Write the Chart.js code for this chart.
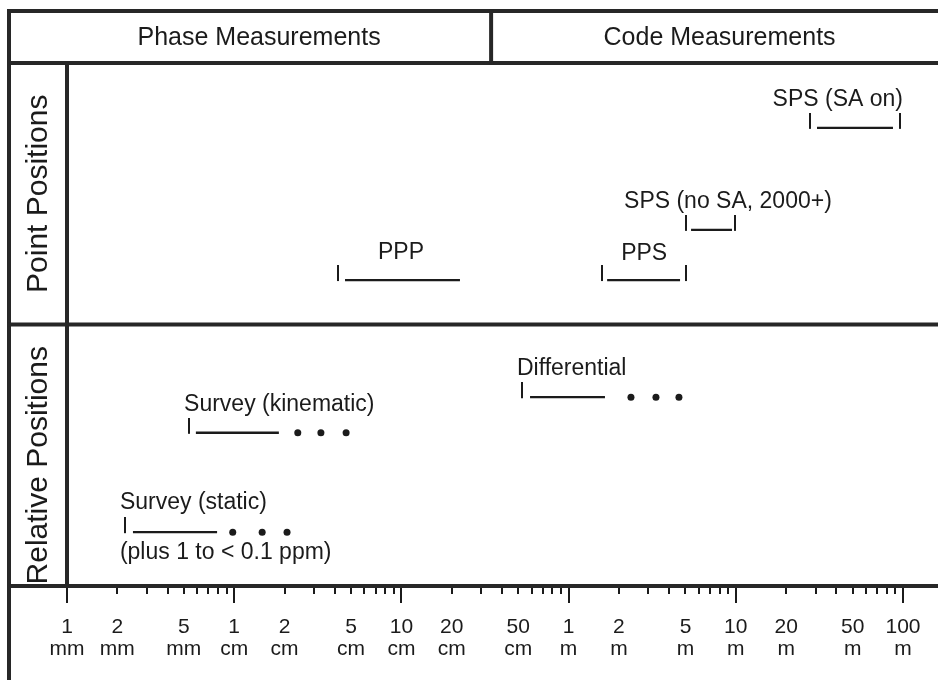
<!DOCTYPE html>
<html><head><meta charset="utf-8">
<script src="https://cdn.jsdelivr.net/npm/chart.js@4/dist/chart.umd.min.js"></script>
<style>html,body{margin:0;padding:0;background:#fff;overflow:hidden}</style>
</head><body>
<canvas id="c" width="938" height="680"></canvas>
<script>
// ---------- data (all distances in metres) ----------
const itemNames  = ['SPS (SA on)', 'SPS (no SA, 2000+)', 'PPS', 'PPP', 'Differential', 'Survey (kinematic)', 'Survey (static)'];
const itemNotes  = ['', '', '', '', '', '', '(plus 1 to < 0.1 ppm)'];
const rowLevel   = [87.6, 68.1, 58.5, 58.5, 36.1, 29.3, 10.3];
const lowTick    = [27.8, 5.04, 1.59, 0.0418, 0.526, 0.00537, 0.00222];
const highTick   = [95.9, 9.89, 5.04, null, null, null, null];
const lineFrom   = [30.6, 5.40, 1.70, 0.046, 0.588, 0.0059, 0.00248];
const lineTo     = [87.1, 9.49, 4.64, 0.224, 1.65, 0.0185, 0.0079];
const dotValues  = [[], [], [], [], [2.36, 3.33, 4.57], [0.024, 0.033, 0.0467], [0.0098, 0.0147, 0.0207]];

const axisTickValues = [0.001,0.002,0.003,0.004,0.005,0.006,0.007,0.008,0.009,
  0.01,0.02,0.03,0.04,0.05,0.06,0.07,0.08,0.09,
  0.1,0.2,0.3,0.4,0.5,0.6,0.7,0.8,0.9,
  1,2,3,4,5,6,7,8,9,
  10,20,30,40,50,60,70,80,90,100];
const labelValues  = [0.001,0.002,0.005,0.01,0.02,0.05,0.1,0.2,0.5,1,2,5,10,20,50,100];
const labelNumbers = ['1','2','5','1','2','5','10','20','50','1','2','5','10','20','50','100'];
const labelUnits   = ['mm','mm','mm','cm','cm','cm','cm','cm','cm','m','m','m','m','m','m','m'];

const columnTitles = ['Phase Measurements', 'Code Measurements'];
const rowTitles    = ['Point Positions', 'Relative Positions'];
const columnSplitValue = 0.344;  // boundary between phase / code columns (m)
const rowSplitLevel = 50;

// ---------- styles ----------
const INK = '#1b1b1b';
const FRAME = '#272727';
const FONT = "'Liberation Sans', Arial, Helvetica, sans-serif";
const labelPlace = [
  {align: 'right',  ref: 'high', dx: 3,   dy: -22},
  {align: 'left',   ref: 'low',  dx: -62, dy: -22},
  {align: 'center', ref: 'mid',  dx: 0,   dy: -20},
  {align: 'center', ref: 'mid',  dx: 2,   dy: -21},
  {align: 'left',   ref: 'low',  dx: -5,  dy: -22},
  {align: 'left',   ref: 'low',  dx: -5,  dy: -22},
  {align: 'left',   ref: 'low',  dx: -5,  dy: -23}
];
const rowTitleShift = [0, 10];

// tick-mark point style: vertical stroke whose bottom sits on the point
const tickImg = document.createElement('canvas');
tickImg.width = 2; tickImg.height = 30;
(function(){ const g = tickImg.getContext('2d'); g.fillStyle = INK; g.fillRect(0, 0, 2, 16); })();

const datasets = [];
itemNames.forEach((n, i) => {
  datasets.push({
    label: n, showLine: true,
    data: [{x: lineFrom[i], y: rowLevel[i]}, {x: lineTo[i], y: rowLevel[i]}],
    borderColor: INK, borderWidth: 2.3, pointRadius: 0
  });
});
const tickPts = [];
itemNames.forEach((n, i) => {
  tickPts.push({x: lowTick[i], y: rowLevel[i]});
  if (highTick[i] !== null) tickPts.push({x: highTick[i], y: rowLevel[i]});
});
datasets.push({label: 'ends', data: tickPts, pointStyle: tickImg, pointRadius: 5, showLine: false});
const dotPts = [];
itemNames.forEach((n, i) => dotValues[i].forEach(v => dotPts.push({x: v, y: rowLevel[i]})));
datasets.push({label: 'dots', data: dotPts, pointStyle: 'circle', pointRadius: 3.5,
  backgroundColor: INK, borderWidth: 0, showLine: false});

const framePlugin = {
  id: 'frame',
  beforeDraw(chart) {
    const c = chart.ctx;
    c.save(); c.fillStyle = '#fff'; c.fillRect(0, 0, chart.width, chart.height); c.restore();
  },
  afterDraw(chart) {
    const c = chart.ctx, ca = chart.chartArea, xs = chart.scales.x, ys = chart.scales.y;
    const W = chart.width, H = chart.height;
    const outerL = ca.left - 58, outerT = ca.top - 52;
    const splitX = xs.getPixelForValue(columnSplitValue);
    const rowY = ys.getPixelForValue(rowSplitLevel);
    c.save();
    c.strokeStyle = FRAME; c.lineWidth = 4; c.lineCap = 'square';
    const seg = (x1, y1, x2, y2) => { c.beginPath(); c.moveTo(x1, y1); c.lineTo(x2, y2); c.stroke(); };
    seg(outerL, outerT, outerL, H + 5);
    seg(outerL, outerT, W + 5, outerT);
    seg(outerL, ca.top, W + 5, ca.top);
    seg(splitX, outerT, splitX, ca.top);
    seg(ca.left, ca.top, ca.left, ca.bottom);
    seg(outerL, rowY, W + 5, rowY);
    seg(outerL, ca.bottom, W + 5, ca.bottom);
    // axis tick marks
    c.lineWidth = 2; c.lineCap = 'butt'; c.strokeStyle = INK;
    axisTickValues.forEach(v => {
      const px = Math.round(xs.getPixelForValue(v));
      const lg = Math.log10(v);
      const major = Math.abs(lg - Math.round(lg)) < 1e-9;
      seg(px, ca.bottom + 2, px, ca.bottom + (major ? 17 : 8));
    });
    // column / row titles
    c.fillStyle = INK; c.textBaseline = 'middle'; c.textAlign = 'center';
    c.font = '25px ' + FONT;
    const hy = (outerT + ca.top) / 2 + 1;
    c.fillText(columnTitles[0], (outerL + splitX) / 2 + 9, hy);
    c.fillText(columnTitles[1], (splitX + W) / 2 + 5, hy);
    c.font = '30px ' + FONT;
    const rx = (outerL + ca.left) / 2 + 1;
    [[ca.top, rowY], [rowY, ca.bottom]].forEach((r, k) => {
      c.save(); c.translate(rx, (r[0] + r[1]) / 2 + rowTitleShift[k]); c.rotate(-Math.PI / 2);
      c.fillText(rowTitles[k], 0, 0); c.restore();
    });
    c.restore();
  }
};

const labelPlugin = {
  id: 'itemLabels',
  afterDatasetsDraw(chart) {
    const c = chart.ctx, xs = chart.scales.x, ys = chart.scales.y;
    c.save();
    c.fillStyle = INK; c.font = '23px ' + FONT; c.textBaseline = 'alphabetic';
    itemNames.forEach((n, i) => {
      const y = ys.getPixelForValue(rowLevel[i]);
      const xl = xs.getPixelForValue(lowTick[i]);
      const xr = xs.getPixelForValue(highTick[i] !== null ? highTick[i] : lineTo[i]);
      const p = labelPlace[i];
      const ax = p.ref === 'low' ? xl : p.ref === 'high' ? xr : (xl + xr) / 2;
      c.textAlign = p.align;
      c.fillText(n, ax + p.dx, y + p.dy);
      if (itemNotes[i]) { c.textAlign = 'left'; c.fillText(itemNotes[i], xl - 5, y + 27); }
    });
    c.restore();
  }
};

new Chart(document.getElementById('c'), {
  type: 'scatter',
  data: {datasets},
  options: {
    responsive: false, devicePixelRatio: 1, animation: false, events: [],
    layout: {padding: {left: 67, right: 35, top: 63, bottom: 20}},
    scales: {
      x: {
        type: 'logarithmic', min: 0.001, max: 100, position: 'bottom',
        afterBuildTicks: s => { s.ticks = axisTickValues.map(v => ({value: v})); },
        afterFit: s => { s.height = 74; s.paddingLeft = 0; s.paddingRight = 0; },
        grid: {display: false, drawTicks: false, tickLength: 0},
        border: {display: false},
        ticks: {
          autoSkip: false, maxRotation: 0, minRotation: 0, padding: 30, color: INK,
          font: {family: FONT, size: 21, lineHeight: '22px'},
          callback: (val) => {
            const i = labelValues.findIndex(v => Math.abs(v - val) / v < 1e-6);
            return i < 0 ? '' : [labelNumbers[i], labelUnits[i]];
          }
        }
      },
      y: {type: 'linear', min: 0, max: 100, display: false}
    },
    plugins: {legend: {display: false}, tooltip: {enabled: false}}
  },
  plugins: [framePlugin, labelPlugin]
});
</script>
</body></html>
